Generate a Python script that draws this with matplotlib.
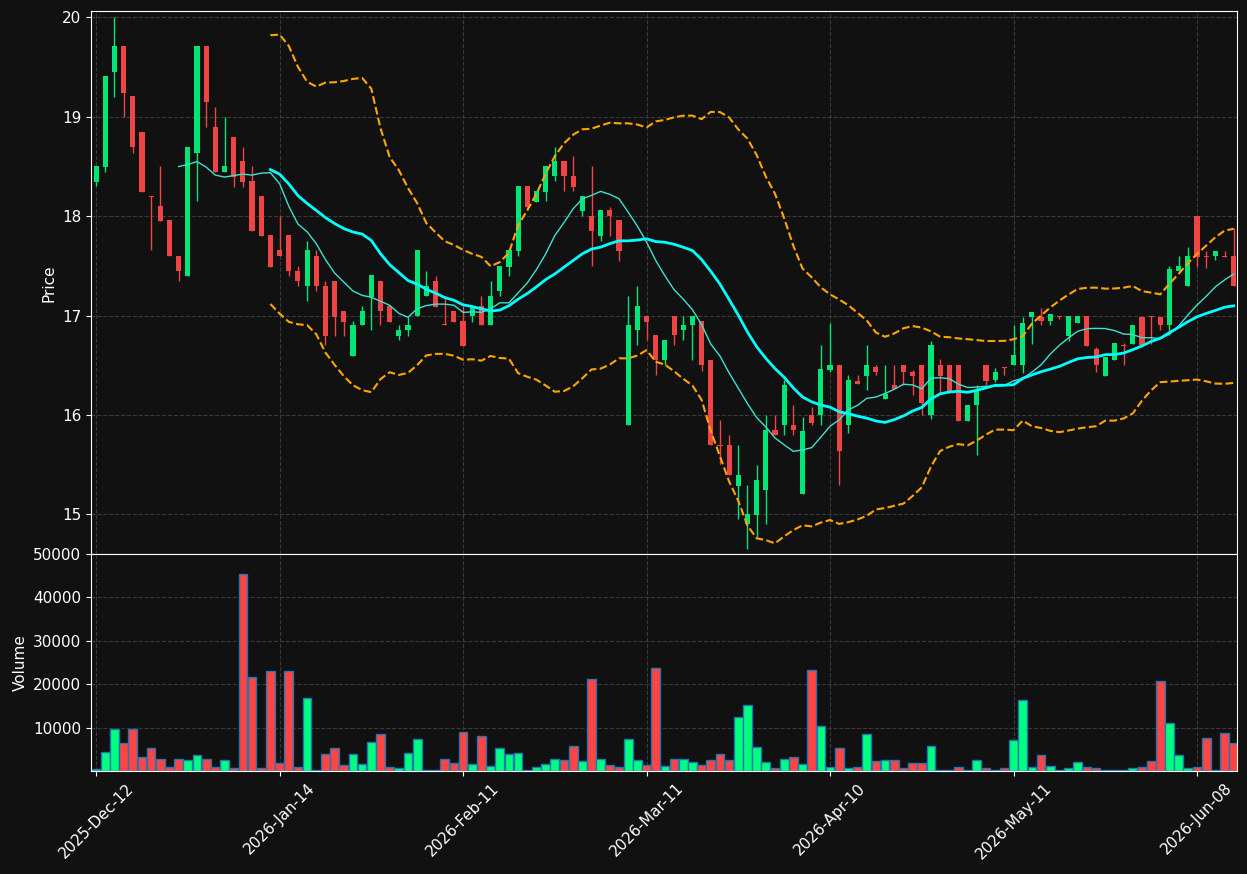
import matplotlib
matplotlib.use("Agg")
import matplotlib.pyplot as plt
import numpy as np
import pandas as pd

# OHLCV, one entry per trading session
opens = [18.34, 18.49, 19.45, 19.71, 19.21, 18.85, 18.20, 18.10, 17.96, 17.60,
         17.40, 18.64, 19.71, 18.90, 18.44, 18.80, 18.55, 18.35, 18.20, 17.81,
         17.66, 17.81, 17.45, 17.30, 17.60, 17.30, 17.35, 17.05, 16.59, 16.90,
         17.19, 17.35, 17.10, 16.79, 16.85, 17.00, 17.20, 17.35, 16.91, 17.05,
         16.95, 17.00, 17.10, 16.90, 17.25, 17.49, 17.65, 18.30, 18.14, 18.24,
         18.40, 18.55, 18.40, 18.05, 18.00, 17.80, 18.06, 17.96, 15.90, 16.85,
         17.00, 16.80, 16.55, 17.00, 16.85, 16.90, 16.95, 16.55, 15.70, 15.70,
         15.29, 14.90, 14.99, 15.24, 15.85, 15.90, 15.90, 15.20, 16.00, 16.00,
         16.45, 16.50, 15.90, 16.34, 16.39, 16.48, 16.16, 16.30, 16.50, 16.43,
         16.50, 16.00, 16.50, 16.50, 16.50, 15.94, 16.10, 16.50, 16.35, 16.48,
         16.50, 16.50, 16.99, 16.99, 16.95, 17.00, 16.79, 16.93, 17.00, 16.66,
         16.39, 16.55, 16.70, 16.71, 16.99, 17.00, 16.99, 16.90, 17.45, 17.30,
         18.00, 17.60, 17.60, 17.60, 17.60]
highs = [18.50, 19.41, 20.00, 19.71, 19.21, 18.85, 18.20, 18.50, 17.96, 17.60,
         18.70, 19.71, 19.71, 19.10, 19.00, 18.80, 18.70, 18.50, 18.20, 17.81,
         18.00, 17.81, 17.50, 17.75, 17.66, 17.35, 17.35, 17.05, 16.95, 17.10,
         17.41, 17.35, 17.10, 16.90, 16.99, 17.66, 17.45, 17.40, 17.20, 17.05,
         17.10, 17.10, 17.20, 17.35, 17.50, 17.66, 18.30, 18.30, 18.25, 18.50,
         18.70, 18.55, 18.60, 18.20, 18.50, 18.06, 18.09, 17.96, 17.20, 17.30,
         17.00, 16.80, 16.75, 17.00, 17.00, 17.00, 16.95, 16.55, 15.95, 15.80,
         15.70, 15.30, 15.50, 16.00, 16.00, 16.35, 16.10, 15.98, 16.08, 16.70,
         16.92, 16.50, 16.40, 16.40, 16.70, 16.50, 16.50, 16.50, 16.50, 16.45,
         16.50, 16.74, 16.56, 16.50, 16.50, 16.10, 16.30, 16.50, 16.47, 16.48,
         16.90, 16.99, 17.04, 17.08, 17.02, 17.00, 17.00, 17.00, 17.00, 16.68,
         16.58, 16.72, 16.72, 16.90, 16.99, 17.00, 16.99, 17.50, 17.60, 17.69,
         18.00, 17.65, 17.65, 17.65, 17.88]
lows = [18.30, 18.44, 19.20, 19.00, 18.64, 18.24, 17.66, 17.95, 17.60, 17.35,
        17.40, 18.15, 18.90, 18.44, 18.44, 18.29, 18.29, 17.85, 17.80, 17.49,
        17.60, 17.40, 17.30, 17.15, 17.25, 16.70, 16.79, 16.79, 16.59, 16.90,
        16.85, 16.90, 16.94, 16.75, 16.79, 17.00, 17.20, 17.09, 16.90, 16.94,
        16.69, 16.94, 16.90, 16.90, 17.20, 17.40, 17.60, 18.09, 18.14, 18.15,
        18.35, 18.25, 18.25, 18.00, 17.50, 17.75, 17.80, 17.55, 15.90, 16.70,
        16.75, 16.40, 16.50, 16.70, 16.75, 16.55, 16.44, 15.70, 15.51, 15.40,
        14.95, 14.65, 14.77, 14.90, 15.80, 15.80, 15.80, 15.20, 15.90, 15.90,
        16.43, 15.30, 15.82, 16.31, 16.25, 16.40, 16.16, 16.26, 16.30, 16.20,
        16.00, 15.96, 16.22, 16.22, 15.94, 15.94, 15.60, 16.30, 16.33, 16.40,
        16.50, 16.42, 16.71, 16.90, 16.90, 16.97, 16.74, 16.92, 16.69, 16.43,
        16.39, 16.55, 16.50, 16.71, 16.70, 16.71, 16.85, 16.80, 17.45, 17.30,
        17.49, 17.48, 17.56, 17.59, 17.30]
closes = [18.50, 19.41, 19.71, 19.24, 18.70, 18.24, 18.19, 17.95, 17.60, 17.45,
          18.70, 19.71, 19.15, 18.44, 18.50, 18.39, 18.34, 17.85, 17.80, 17.49,
          17.60, 17.45, 17.35, 17.66, 17.30, 16.79, 16.99, 16.94, 16.90, 17.05,
          17.41, 17.05, 16.94, 16.85, 16.90, 17.66, 17.30, 17.09, 16.90, 16.94,
          16.69, 17.10, 16.90, 17.20, 17.50, 17.66, 18.30, 18.09, 18.25, 18.50,
          18.55, 18.40, 18.29, 18.20, 17.85, 18.06, 18.00, 17.65, 16.90, 17.10,
          16.94, 16.55, 16.75, 16.80, 16.90, 17.00, 16.50, 15.70, 15.69, 15.40,
          15.40, 15.00, 15.35, 15.85, 15.80, 16.30, 15.85, 15.84, 15.92, 16.46,
          16.50, 15.64, 16.35, 16.31, 16.50, 16.43, 16.21, 16.26, 16.43, 16.39,
          16.12, 16.70, 16.39, 16.22, 15.94, 16.10, 16.25, 16.34, 16.43, 16.47,
          16.60, 16.92, 17.04, 16.95, 17.02, 16.99, 17.00, 17.00, 16.69, 16.50,
          16.58, 16.72, 16.69, 16.90, 16.70, 16.99, 16.90, 17.47, 17.50, 17.60,
          17.59, 17.59, 17.65, 17.59, 17.30]
volumes = [400, 4300, 9600, 6400, 9600, 3200, 5250, 2850, 1000, 2700,
           2400, 3600, 2850, 1000, 2450, 770, 45500, 21700, 620, 23100,
           1770, 23100, 1000, 16800, 300, 3850, 5250, 1300, 3850, 1550,
           6650, 8500, 1000, 770, 4100, 7350, 300, 300, 2700, 1770,
           8950, 1550, 7950, 1230, 5250, 3850, 4100, 230, 1000, 1550,
           2700, 2450, 5700, 2250, 21200, 2850, 1300, 850, 7350, 2450,
           1300, 23700, 1230, 2850, 2700, 2000, 1300, 2450, 3850, 2450,
           12400, 15200, 5450, 2000, 620, 2850, 3150, 1550, 23300, 10350,
           1000, 5250, 550, 850, 8500, 2250, 2450, 2450, 620, 1770,
           1770, 5700, 300, 100, 1000, 300, 2450, 620, 150, 620,
           7100, 16300, 850, 3600, 1080, 300, 620, 2000, 850, 620,
           300, 300, 300, 620, 1000, 2250, 20750, 11000, 3600, 620,
           850, 7550, 150, 8700, 6400]

tick_labels = ["2025-Dec-12", "2026-Jan-14", "2026-Feb-11", "2026-Mar-11",
               "2026-Apr-10", "2026-May-11", "2026-Jun-08"]
price_ticks = [15, 16, 17, 18, 19, 20]
volume_ticks = [10000, 20000, 30000, 40000, 50000]

BG = "#111111"
UP_CANDLE = "#00e676"
DOWN_CANDLE = "#ef4444"
UP_VOL = "#00ff7f"
DOWN_VOL = "#ff4444"

df = pd.DataFrame({"open": opens, "high": highs, "low": lows,
                   "close": closes, "volume": volumes})
x = np.arange(len(df))
up = df["close"] >= df["open"]

ma10 = df["close"].rolling(10).mean()
ma20 = df["close"].rolling(20).mean()
std20 = df["close"].rolling(20).std(ddof=0)
bb_upper = ma20 + 2 * std20
bb_lower = ma20 - 2 * std20

plt.rcParams["font.family"] = ["DejaVu Sans"]
fig = plt.figure(figsize=(12.47, 8.74), dpi=100, facecolor=BG)
ax = fig.add_axes([0.073, 0.366, 0.919, 0.621])
axv = fig.add_axes([0.073, 0.118, 0.919, 0.248], sharex=ax)

for a in (ax, axv):
    a.set_facecolor(BG)
    for s in a.spines.values():
        s.set_color("white")
    a.tick_params(colors="white", labelsize=11)
    a.grid(True, color="#3a3a3a", linestyle="--", linewidth=0.8)
    a.set_axisbelow(True)

# candles
colors = np.where(up, UP_CANDLE, DOWN_CANDLE)
ax.vlines(x, df["low"], df["high"], colors=colors, linewidth=1)
body_bottom = np.minimum(df["open"], df["close"])
body_height = np.maximum((df["close"] - df["open"]).abs(), 0.008)
ax.bar(x, body_height, bottom=body_bottom, width=0.56, color=colors, linewidth=0)

ax.plot(x, ma10, color="#40e0d0", linewidth=1)
ax.plot(x, ma20, color="#00ffff", linewidth=2)
ax.plot(x, bb_upper, color="#ffa500", linewidth=1.5, linestyle="--")
ax.plot(x, bb_lower, color="#ffa500", linewidth=1.5, linestyle="--")

ax.set_ylim(14.6, 20.06)
ax.set_yticks(price_ticks)
ax.set_ylabel("Price", color="white", fontsize=11)
ax.tick_params(axis="x", labelbottom=False, length=0)

vcolors = np.where(up, UP_VOL, DOWN_VOL)
axv.bar(x, df["volume"], width=0.95, color=vcolors, edgecolor="#1f77b4", linewidth=1)
axv.set_ylim(0, 50000)
axv.set_yticks(volume_ticks)
axv.set_ylabel("Volume", color="white", fontsize=11)

axv.set_xlim(-0.55, 124.36)
tick_pos = x[::20]
axv.set_xticks(tick_pos)
axv.set_xticklabels(tick_labels, rotation=45, ha="center")

fig.savefig("out.png", facecolor=BG)
